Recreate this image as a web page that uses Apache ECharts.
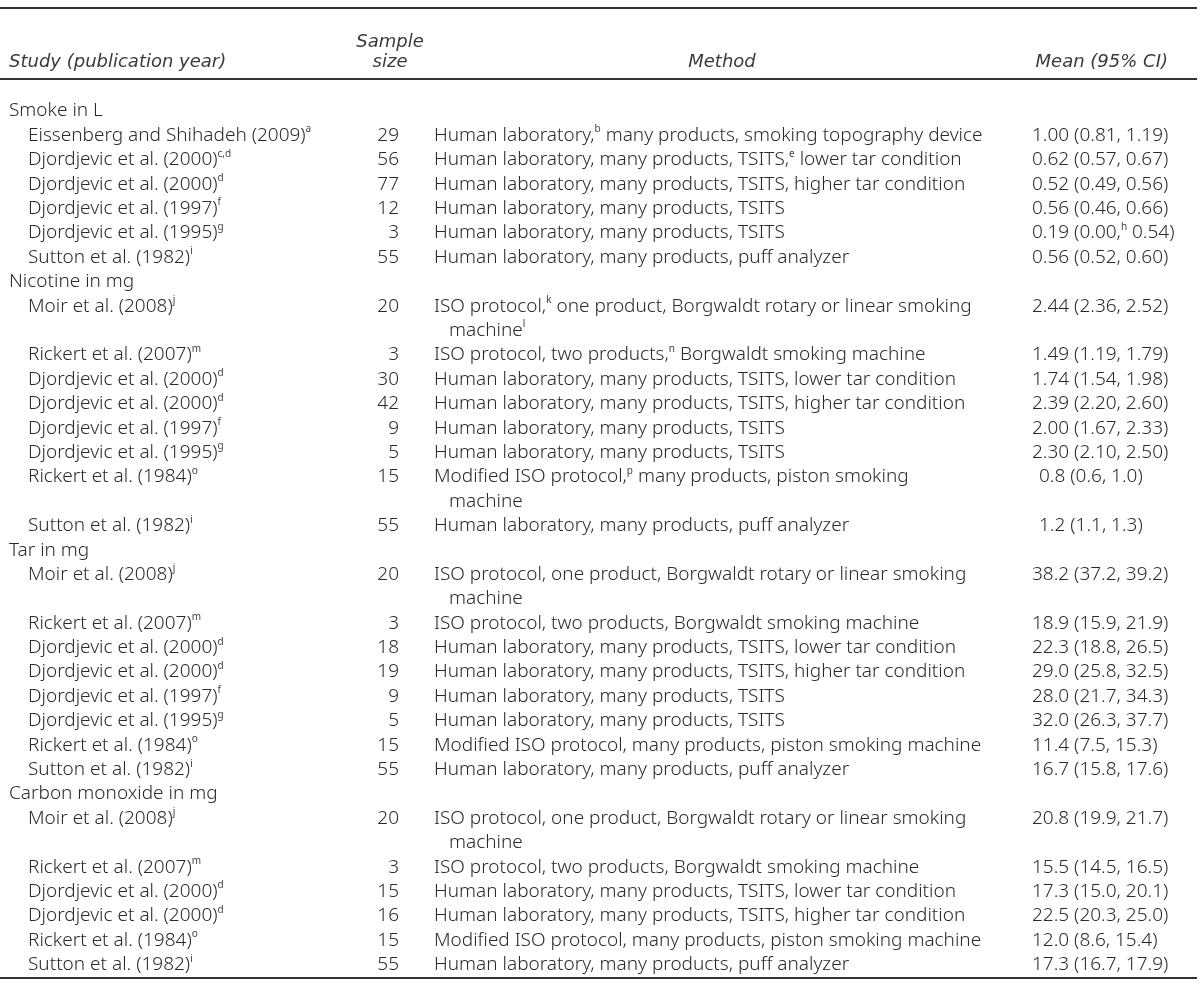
<!DOCTYPE html>
<html><head><meta charset="utf-8">
<script src="https://cdn.jsdelivr.net/npm/echarts@6/dist/echarts.min.js"></script>
<style>html,body{margin:0;padding:0;background:#fff}#c{width:1200px;height:988px}</style>
</head><body><div id="c"></div>
<script>
// ---------- DATA ----------
const headerLabels = ['Study (publication year)', 'Sample', 'size', 'Method', 'Mean (95% CI)'];
const sections = ['Smoke in L', 'Nicotine in mg', 'Tar in mg', 'Carbon monoxide in mg'];

const smokeStudies = ['Eissenberg and Shihadeh (2009)', 'Djordjevic et al. (2000)', 'Djordjevic et al. (2000)', 'Djordjevic et al. (1997)', 'Djordjevic et al. (1995)', 'Sutton et al. (1982)'];
const smokeNotes = ['a', 'c,d', 'd', 'f', 'g', 'i'];
const smokeN = [29, 56, 77, 12, 3, 55];
const smokeMethods = [
  'Human laboratory,^b many products, smoking topography device',
  'Human laboratory, many products, TSITS,^e lower tar condition',
  'Human laboratory, many products, TSITS, higher tar condition',
  'Human laboratory, many products, TSITS',
  'Human laboratory, many products, TSITS',
  'Human laboratory, many products, puff analyzer'];
const smokeMeans = ['1.00 (0.81, 1.19)', '0.62 (0.57, 0.67)', '0.52 (0.49, 0.56)', '0.56 (0.46, 0.66)', '0.19 (0.00,^h 0.54)', '0.56 (0.52, 0.60)'];

const nicotineStudies = ['Moir et al. (2008)', 'Rickert et al. (2007)', 'Djordjevic et al. (2000)', 'Djordjevic et al. (2000)', 'Djordjevic et al. (1997)', 'Djordjevic et al. (1995)', 'Rickert et al. (1984)', 'Sutton et al. (1982)'];
const nicotineNotes = ['j', 'm', 'd', 'd', 'f', 'g', 'o', 'i'];
const nicotineN = [20, 3, 30, 42, 9, 5, 15, 55];
const nicotineMethods = [
  'ISO protocol,^k one product, Borgwaldt rotary or linear smoking|machine^l',
  'ISO protocol, two products,^n Borgwaldt smoking machine',
  'Human laboratory, many products, TSITS, lower tar condition',
  'Human laboratory, many products, TSITS, higher tar condition',
  'Human laboratory, many products, TSITS',
  'Human laboratory, many products, TSITS',
  'Modified ISO protocol,^p many products, piston smoking|machine',
  'Human laboratory, many products, puff analyzer'];
const nicotineMeans = ['2.44 (2.36, 2.52)', '1.49 (1.19, 1.79)', '1.74 (1.54, 1.98)', '2.39 (2.20, 2.60)', '2.00 (1.67, 2.33)', '2.30 (2.10, 2.50)', '0.8 (0.6, 1.0)', '1.2 (1.1, 1.3)'];

const tarStudies = ['Moir et al. (2008)', 'Rickert et al. (2007)', 'Djordjevic et al. (2000)', 'Djordjevic et al. (2000)', 'Djordjevic et al. (1997)', 'Djordjevic et al. (1995)', 'Rickert et al. (1984)', 'Sutton et al. (1982)'];
const tarNotes = ['j', 'm', 'd', 'd', 'f', 'g', 'o', 'i'];
const tarN = [20, 3, 18, 19, 9, 5, 15, 55];
const tarMethods = [
  'ISO protocol, one product, Borgwaldt rotary or linear smoking|machine',
  'ISO protocol, two products, Borgwaldt smoking machine',
  'Human laboratory, many products, TSITS, lower tar condition',
  'Human laboratory, many products, TSITS, higher tar condition',
  'Human laboratory, many products, TSITS',
  'Human laboratory, many products, TSITS',
  'Modified ISO protocol, many products, piston smoking machine',
  'Human laboratory, many products, puff analyzer'];
const tarMeans = ['38.2 (37.2, 39.2)', '18.9 (15.9, 21.9)', '22.3 (18.8, 26.5)', '29.0 (25.8, 32.5)', '28.0 (21.7, 34.3)', '32.0 (26.3, 37.7)', '11.4 (7.5, 15.3)', '16.7 (15.8, 17.6)'];

const coStudies = ['Moir et al. (2008)', 'Rickert et al. (2007)', 'Djordjevic et al. (2000)', 'Djordjevic et al. (2000)', 'Rickert et al. (1984)', 'Sutton et al. (1982)'];
const coNotes = ['j', 'm', 'd', 'd', 'o', 'i'];
const coN = [20, 3, 15, 16, 15, 55];
const coMethods = [
  'ISO protocol, one product, Borgwaldt rotary or linear smoking|machine',
  'ISO protocol, two products, Borgwaldt smoking machine',
  'Human laboratory, many products, TSITS, lower tar condition',
  'Human laboratory, many products, TSITS, higher tar condition',
  'Modified ISO protocol, many products, piston smoking machine',
  'Human laboratory, many products, puff analyzer'];
const coMeans = ['20.8 (19.9, 21.7)', '15.5 (14.5, 16.5)', '17.3 (15.0, 20.1)', '22.5 (20.3, 25.0)', '12.0 (8.6, 15.4)', '17.3 (16.7, 17.9)'];

// ---------- LAYOUT ----------
const FONT = 'Noto Sans';
const HEAD_FONT = 'DejaVu Sans';
const FS = 19, HEAD_FS = 18;
const TEXT_COLOR = '#2a2a2a';
const COL = { section: 9, study: 28, n: 399, nHead: 390, method: 434, methodWrap: 449, mean: 1032, meanHead: 1168, methodHead: 722 };
const ROW_PX = 24.395, FIRST_ROW_PX = 111;
const Y_MIN = -FIRST_ROW_PX / ROW_PX, Y_MAX = (988 - FIRST_ROW_PX) / ROW_PX;
const pxToLine = px => (px - FIRST_ROW_PX) / ROW_PX;

const sup = s => s.replace(/\^([a-z,]+)/g, '{s|$1}');

const groups = [
  [smokeStudies, smokeNotes, smokeN, smokeMethods, smokeMeans],
  [nicotineStudies, nicotineNotes, nicotineN, nicotineMethods, nicotineMeans],
  [tarStudies, tarNotes, tarN, tarMethods, tarMeans],
  [coStudies, coNotes, coN, coMethods, coMeans]
];

const cells = [];
// header
cells.push({ x: COL.section, line: pxToLine(62), text: headerLabels[0], align: 'left', head: true });
cells.push({ x: COL.nHead, line: pxToLine(42), text: headerLabels[1], align: 'center', head: true });
cells.push({ x: COL.nHead, line: pxToLine(62), text: headerLabels[2], align: 'center', head: true });
cells.push({ x: COL.methodHead, line: pxToLine(62), text: headerLabels[3], align: 'center', head: true });
cells.push({ x: COL.meanHead, line: pxToLine(62), text: headerLabels[4], align: 'right', head: true });

let line = 0;
groups.forEach((g, gi) => {
  cells.push({ x: COL.section, line: line, text: sections[gi], align: 'left' });
  line++;
  const [studies, notes, ns, methods, means] = g;
  studies.forEach((s, i) => {
    cells.push({ x: COL.study, line: line, text: s + '{s|' + notes[i] + '}', align: 'left' });
    cells.push({ x: COL.n, line: line, text: String(ns[i]), align: 'right' });
    const parts = methods[i].split('|');
    parts.forEach((p, k) => {
      cells.push({ x: k === 0 ? COL.method : COL.methodWrap, line: line + k, text: sup(p), align: 'left' });
    });
    const m = means[i];
    const lead = m.split(' ')[0];
    cells.push({ x: COL.mean + (lead.length < 4 ? 7 : 0), line: line, text: sup(m), align: 'left' });
    line += parts.length;
  });
});

const rules = [pxToLine(8), pxToLine(79), pxToLine(978)];

const chart = echarts.init(document.getElementById('c'), null, { renderer: 'canvas' });
chart.setOption({
  animation: false,
  backgroundColor: '#fff',
  grid: { left: 0, right: 0, top: 0, bottom: 0 },
  xAxis: { type: 'value', min: 0, max: 1200, show: false },
  yAxis: { type: 'value', inverse: true, min: Y_MIN, max: Y_MAX, show: false },
  series: [
    {
      type: 'custom',
      data: cells.map(c => [c.x, c.line]),
      renderItem: function (params, api) {
        const c = cells[params.dataIndex];
        const p = api.coord([api.value(0), api.value(1)]);
        return {
          type: 'text',
          x: p[0], y: p[1],
          style: {
            text: c.text,
            fill: c.head ? '#3a3a3a' : TEXT_COLOR,
            fontFamily: c.head ? HEAD_FONT : FONT,
            fontSize: c.head ? HEAD_FS : FS,
            fontWeight: c.head ? 200 : 300,
            fontStyle: c.head ? 'italic' : 'normal',
            align: c.align,
            verticalAlign: 'middle',
            lineHeight: 22,
            rich: {
              s: { fontSize: 10, fontFamily: FONT, fill: '#444', verticalAlign: 'top', lineHeight: 12 }
            }
          }
        };
      }
    },
    {
      type: 'custom',
      data: rules.map(r => [0, r]),
      renderItem: function (params, api) {
        const a = api.coord([0, api.value(1)]);
        const b = api.coord([1197, api.value(1)]);
        return {
          type: 'rect',
          shape: { x: a[0], y: a[1] - 1, width: b[0] - a[0], height: 2 },
          style: { fill: '#333' }
        };
      }
    }
  ]
});
</script>
</body></html>
